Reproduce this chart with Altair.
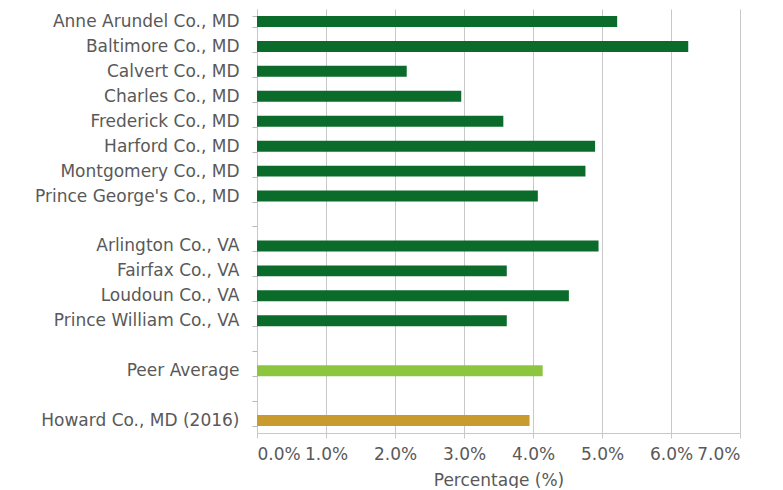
import altair as alt
import pandas as pd

categories = [
    "Anne Arundel Co., MD", "Baltimore Co., MD", "Calvert Co., MD", "Charles Co., MD",
    "Frederick Co., MD", "Harford Co., MD", "Montgomery Co., MD", "Prince George's Co., MD",
    "Arlington Co., VA", "Fairfax Co., VA", "Loudoun Co., VA", "Prince William Co., VA",
    "Peer Average", "Howard Co., MD (2016)",
]
values = [0.0522, 0.0625, 0.0217, 0.0296, 0.0357, 0.0490, 0.0476, 0.0407,
          0.0495, 0.0362, 0.0452, 0.0362, 0.0414, 0.0395]
groups = ["County"] * 12 + ["Peer", "Howard"]

# row order including blank spacer rows
row_order = categories[:8] + [" "] + categories[8:12] + ["  "] + ["Peer Average"] + ["   "] + ["Howard Co., MD (2016)"]

x_ticks = [0, 0.01, 0.02, 0.03, 0.04, 0.05, 0.06, 0.07]

df = pd.DataFrame({"category": categories, "value": values, "group": groups})

FONT = "DejaVu Sans"
TXT = "#595959"
FS = 17

chart = alt.Chart(df).mark_bar().encode(
    y=alt.Y("category:N", sort=row_order,
            scale=alt.Scale(domain=row_order, paddingInner=0.56, paddingOuter=0.28),
            axis=alt.Axis(title=None, tickBand="extent", tickColor="#b8b8b8", tickSize=5,
                          domainColor="#c8c8c8", labelFont=FONT, labelFontSize=FS,
                          labelColor=TXT, labelPadding=13, labelLimit=300)),
    x=alt.X("value:Q",
            scale=alt.Scale(domain=[0, 0.07], nice=False),
            axis=alt.Axis(title="Percentage (%)", format=".1%", values=x_ticks,
                          grid=True, gridColor="#c8c8c8", tickColor="#c8c8c8",
                          domainColor="#c8c8c8", tickSize=5,
                          labelFont=FONT, labelFontSize=FS, labelColor=TXT,
                          labelPadding=8,
                          titleFont=FONT, titleFontSize=FS, titleColor=TXT,
                          titleFontWeight="normal", titlePadding=10)),
    color=alt.Color("group:N",
                    scale=alt.Scale(domain=["County", "Peer", "Howard"],
                                    range=["#0b6b2a", "#8cc63e", "#c99a2e"]),
                    legend=None),
).properties(
    width=483, height=424,
    padding={"left": 26, "top": -8, "right": 5, "bottom": 0},
).configure_view(stroke=None)

chart.save("out.html", embed_options={"renderer": "svg", "actions": False})
